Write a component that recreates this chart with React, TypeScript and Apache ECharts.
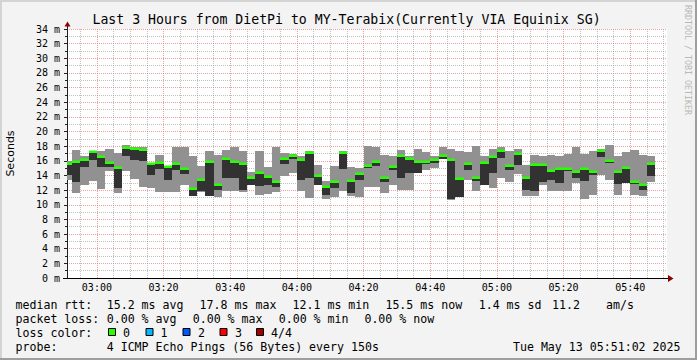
import React, { useEffect, useRef } from "react";
import * as echarts from "echarts";

// ---- data (minutes since midnight) ----
const firstStepStart = 170; // 02:50:00
const stepMinutes = 2.5; // 150 s
const axisStart = 171 + 2 / 60; // 02:51:02
const axisEnd = 351 + 2 / 60; // 05:51:02

const pingMax = [
  16.0, 17.5, 16.6, 17.2, 17.4, 17.65, 17.05, 18.2, 17.9, 17.95,
  15.7, 16.8, 15.25, 17.85, 17.95, 16.6, 15.25, 17.4, 16.85, 17.5,
  17.95, 17.4, 14.45, 17.3, 15.15, 17.95, 17.05, 16.9, 16.6, 17.3,
  15.45, 13.3, 15.25, 17.4, 15.1, 15.0, 18.05, 17.95, 16.8, 16.6,
  17.5, 16.6, 17.6, 17.15, 16.6, 17.95, 17.65, 17.4, 17.15, 18.05,
  16.6, 17.6, 17.95, 17.4, 17.65, 15.45, 16.85, 16.6, 16.85, 16.7,
  16.9, 17.95, 16.95, 17.3, 17.65, 18.2, 16.6, 17.15, 17.5, 16.85,
  16.6,
];
const pingHigh = [
  15.5, 15.8, 16.15, 17.15, 16.5, 15.75, 15.05, 17.8, 17.55, 17.5,
  15.55, 15.7, 15.2, 15.5, 14.9, 12.1, 13.4, 15.9, 12.7, 16.3,
  15.9, 15.55, 13.6, 14.4, 13.75, 13.1, 16.25, 16.6, 16.05, 17.1,
  13.9, 12.4, 13.15, 17.1, 13.2, 14.15, 15.35, 15.8, 13.6, 15.15,
  16.6, 16.25, 15.85, 15.85, 16.15, 16.7, 16.05, 13.55, 15.55, 13.7,
  15.65, 16.55, 17.4, 15.35, 17.0, 13.7, 15.45, 15.45, 14.55, 14.85,
  14.85, 14.5, 14.95, 14.5, 17.3, 16.0, 14.5, 15.0, 13.15, 12.75,
  15.55,
];
const pingLow = [
  14.0, 13.1, 15.1, 16.15, 15.2, 15.1, 12.3, 16.6, 16.15, 16.0,
  14.1, 14.9, 13.35, 14.8, 14.25, 11.25, 11.85, 11.25, 11.95, 13.65,
  13.65, 12.05, 12.75, 12.5, 12.75, 12.4, 15.6, 16.3, 13.4, 13.65,
  12.75, 11.35, 12.3, 14.9, 11.6, 13.4, 15.0, 15.3, 13.05, 14.8,
  13.65, 14.4, 14.4, 15.55, 15.7, 16.3, 10.8, 11.05, 14.8, 13.2,
  12.75, 14.35, 16.4, 14.8, 15.45, 12.05, 11.85, 13.05, 13.4, 12.95,
  14.65, 13.65, 13.3, 14.0, 16.5, 15.7, 12.9, 12.95, 12.9, 12.05,
  13.9,
];
const pingMin = [
  13.4, 11.6, 12.7, 13.2, 12.2, 14.65, 11.6, 14.55, 13.55, 12.4,
  12.3, 11.8, 11.7, 11.8, 12.75, 11.25, 11.7, 11.25, 11.0, 11.85,
  11.85, 11.7, 12.75, 11.35, 11.45, 11.7, 13.9, 14.35, 11.85, 10.9,
  12.75, 10.8, 11.05, 11.85, 11.25, 11.05, 12.4, 12.4, 11.6, 12.75,
  12.05, 11.95, 14.4, 14.7, 15.0, 16.3, 10.7, 11.05, 13.4, 11.85,
  12.75, 12.3, 13.65, 13.05, 14.25, 11.25, 11.15, 12.75, 11.9, 11.9,
  11.9, 12.95, 10.85, 11.35, 14.0, 13.4, 11.35, 12.95, 11.35, 11.15,
  13.05,
];
const medianRtt = [
  15.5, 15.8, 16.15, 17.15, 16.5, 15.75, 15.05, 17.8, 17.55, 17.5,
  15.55, 15.7, 15.2, 15.5, 14.9, 12.1, 13.4, 15.9, 12.7, 16.3,
  15.9, 15.55, 13.6, 14.4, 13.75, 13.1, 16.25, 16.6, 16.05, 17.1,
  13.9, 12.4, 13.15, 17.1, 13.2, 14.15, 15.35, 15.8, 13.6, 15.15,
  16.6, 16.25, 15.85, 15.85, 16.15, 16.7, 16.05, 13.55, 15.55, 13.7,
  15.65, 16.55, 17.4, 15.35, 17.0, 13.7, 15.45, 15.45, 14.55, 14.85,
  14.85, 14.5, 14.95, 14.5, 17.3, 16.0, 14.5, 15.0, 13.15, 12.75,
  15.55,
];

const titleText = "Last 3 Hours from DietPi to MY-Terabix(Currently VIA Equinix SG)";
const yAxisTitle = "Seconds";
const watermark = "RRDTOOL / TOBI OETIKER";
const rttStats = ["median rtt:", "15.2 ms avg", "17.8 ms max", "12.1 ms min", "15.5 ms now", "1.4 ms sd", "11.2", "am/s"];
const lossStats = ["packet loss:", "0.00 % avg", "0.00 % max", "0.00 % min", "0.00 % now"];
const lossLabels = ["0", "1", "2", "3", "4/4"];
const lossColors = ["#26ff00", "#00b8ff", "#0059ff", "#ff0000", "#a00000"];
const probeRow = ["probe:", "4 ICMP Echo Pings (56 Bytes) every 150s"];
const stamp = "Tue May 13 05:51:02 2025";

const MONO = "DejaVu Sans Mono";

function hhmm(v: number): string {
  const total = Math.round(v);
  const h = Math.floor(total / 60);
  const m = total % 60;
  return String(h).padStart(2, "0") + ":" + String(m).padStart(2, "0");
}

function txt(text: string, x: number, y: number, extra: any = {}) {
  return {
    type: "text",
    x,
    y,
    z: 100,
    style: {
      text,
      fill: "#000",
      fontFamily: MONO,
      fontSize: 11.6,
      align: "left",
      textAlign: "left",
      verticalAlign: "middle",
      textVerticalAlign: "middle",
      ...extra,
    },
  };
}

export default function App() {
  const ref = useRef<HTMLDivElement>(null);
  useEffect(() => {
    if (!ref.current) return;
    const chart = echarts.init(ref.current, undefined, { renderer: "svg" });

    const rows = medianRtt.map((md, k) => [
      firstStepStart + k * stepMinutes,
      firstStepStart + (k + 1) * stepMinutes,
      pingMin[k],
      pingLow[k],
      pingHigh[k],
      pingMax[k],
      md,
    ]);

    const rttX = [15.5, 106.7, 199.6, 292.5, 385.4, 478.7, 552.1, 606.1];
    const lossX = [15.5, 106.7, 192.7, 278.7, 364.4];
    const boxX = [108.5, 146, 183, 220, 256.5];
    const lossLabelX = [123, 160.5, 198, 235, 271];

    const graphics: any[] = [];
    // frame
    graphics.push({ type: "rect", z: 90, shape: { x: 0, y: 0, width: 697, height: 2 }, style: { fill: "#d4d4d4" } });
    graphics.push({ type: "rect", z: 90, shape: { x: 0, y: 0, width: 2, height: 360 }, style: { fill: "#d4d4d4" } });
    graphics.push({ type: "rect", z: 91, shape: { x: 695, y: 0, width: 2, height: 360 }, style: { fill: "#9e9e9e" } });
    graphics.push({ type: "rect", z: 91, shape: { x: 0, y: 358, width: 697, height: 2 }, style: { fill: "#9e9e9e" } });
    // title
    graphics.push(txt(titleText, 346.5, 19.5, { fontSize: 13.2, align: "center", textAlign: "center" }));
    // watermark
    graphics.push({
      type: "text",
      x: 687.5,
      y: 60,
      rotation: -Math.PI / 2,
      z: 100,
      style: {
        text: watermark,
        fill: "#b8b8b8",
        fontFamily: MONO,
        fontSize: 8.3,
        align: "center",
        textAlign: "center",
        verticalAlign: "middle",
        textVerticalAlign: "middle",
      },
    });
    // axis arrows
    graphics.push({ type: "line", z: 95, shape: { x1: 67.5, y1: 29, x2: 67.5, y2: 25 }, style: { stroke: "#202020", lineWidth: 1 } });
    graphics.push({ type: "polygon", z: 96, shape: { points: [[67.5, 21.5], [64.5, 26.5], [70.5, 26.5]] }, style: { fill: "#8b0000" } });
    graphics.push({ type: "line", z: 95, shape: { x1: 667, y1: 278.5, x2: 669, y2: 278.5 }, style: { stroke: "#000", lineWidth: 1 } });
    graphics.push({ type: "polygon", z: 96, shape: { points: [[673.5, 278.5], [668, 275], [668, 282]] }, style: { fill: "#8b0000" } });
    graphics.push({ type: "line", z: 95, shape: { x1: 63, y1: 278.5, x2: 67, y2: 278.5 }, style: { stroke: "#000", lineWidth: 1 } });

    // legend rows
    rttStats.forEach((t, i) => graphics.push(txt(t, rttX[i], 304.5)));
    lossStats.forEach((t, i) => graphics.push(txt(t, lossX[i], 318.5)));
    graphics.push(txt("loss color:", 15.5, 332.5));
    lossLabels.forEach((t, i) => {
      graphics.push({
        type: "rect",
        z: 100,
        shape: { x: boxX[i], y: 328.5, width: 7, height: 7 },
        style: { fill: lossColors[i], stroke: "#000", lineWidth: 1 },
      });
      graphics.push(txt(t, lossLabelX[i], 332.5));
    });
    graphics.push(txt(probeRow[0], 15.5, 346.5));
    graphics.push(txt(probeRow[1], 106.7, 346.5));
    graphics.push(txt(stamp, 680.5, 346.5, { align: "right", textAlign: "right" }));

    const option: any = {
      animation: false,
      backgroundColor: "#f3f3f3",
      textStyle: { fontFamily: MONO },
      grid: {
        left: 67,
        top: 29,
        right: 30,
        bottom: 82,
        show: true,
        backgroundColor: "#ffffff",
        borderWidth: 0,
        containLabel: false,
        outerBoundsMode: "none",
      },
      xAxis: {
        type: "value",
        min: axisStart,
        max: axisEnd,
        splitNumber: 9,
        minInterval: 20,
        maxInterval: 20,
        axisLine: { show: true, onZero: false, lineStyle: { color: "#000", width: 1 } },
        axisTick: { show: false },
        axisLabel: {
          formatter: (v: number) => hhmm(v),
          showMinLabel: false,
          showMaxLabel: false,
          fontFamily: MONO,
          fontSize: 10,
          color: "#000",
          margin: 4,
        },
        splitLine: {
          show: true,
          showMinLine: false,
          showMaxLine: false,
          lineStyle: { color: "rgba(226,110,110,0.65)", width: 1, type: [1, 1] },
        },
        minorTick: { show: false, splitNumber: 4 },
        minorSplitLine: { show: true, lineStyle: { color: "rgba(140,140,140,0.55)", width: 1, type: [1, 1] } },
      },
      yAxis: {
        type: "value",
        min: 0,
        max: 34,
        interval: 2,
        name: yAxisTitle,
        nameLocation: "middle",
        nameRotate: 90,
        nameGap: 51,
        nameTextStyle: { fontFamily: "DejaVu Sans", fontSize: 11, color: "#000" },
        axisLine: { show: true, onZero: false, lineStyle: { color: "#202020", width: 1 } },
        axisTick: { show: true, length: 3, lineStyle: { color: "#202020" } },
        minorTick: { show: true, splitNumber: 2, length: 2, lineStyle: { color: "#202020" } },
        axisLabel: {
          formatter: (v: number) => v + " m",
          fontFamily: MONO,
          fontSize: 10,
          color: "#000",
          margin: 7,
        },
        splitLine: { show: true, lineStyle: { color: "rgba(226,110,110,0.65)", width: 1, type: [1, 1] } },
        minorSplitLine: { show: true, lineStyle: { color: "rgba(140,140,140,0.55)", width: 1, type: [1, 1] } },
      },
      series: [
        {
          type: "custom",
          clip: true,
          z: 5,
          data: rows,
          encode: { x: [0, 1], y: [2, 3, 4, 5, 6] },
          renderItem: (params: any, api: any) => {
            const t0 = api.value(0);
            const t1 = api.value(1);
            const cs = params.coordSys;
            const clipRect = { x: cs.x, y: cs.y, width: cs.width, height: cs.height };
            const band = (lo: number, hi: number, fill: string) => {
              const a = api.coord([t0, hi]);
              const b = api.coord([t1, lo]);
              const x0 = Math.round(a[0]);
              const x1 = Math.round(b[0]);
              const y0 = Math.round(a[1]);
              const y1 = Math.round(b[1]);
              const shape = echarts.graphic.clipRectByRect(
                { x: x0, y: y0, width: x1 - x0, height: Math.max(1, y1 - y0) },
                clipRect
              );
              return shape ? { type: "rect", shape, style: { fill } } : null;
            };
            const md = api.value(6);
            const a = api.coord([t0, md]);
            const b = api.coord([t1, md]);
            const gx0 = Math.round(a[0]);
            const gx1 = Math.round(b[0]);
            const gShape = echarts.graphic.clipRectByRect(
              { x: gx0, y: Math.round(a[1]) - 1.5, width: gx1 - gx0, height: 2.5 },
              clipRect
            );
            const children = [
              band(api.value(2), api.value(5), "#919191"),
              band(api.value(3), api.value(4), "#323232"),
              gShape ? { type: "rect", shape: gShape, style: { fill: "#26ff00" } } : null,
            ].filter(Boolean);
            return { type: "group", children };
          },
        },
      ],
      graphic: graphics,
    };

    chart.setOption(option);
    return () => chart.dispose();
  }, []);

  return (
    <div
      ref={ref}
      style={{ position: "fixed", left: 0, top: 0, width: 697, height: 360 }}
    />
  );
}
